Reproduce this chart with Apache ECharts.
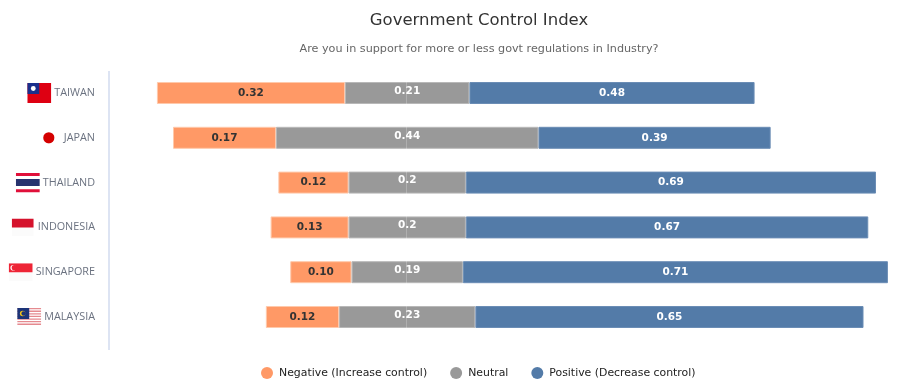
<!DOCTYPE html>
<html>
<head>
	<meta charset="utf-8">
	<title>Government Control Index</title>
	<style>
		html,body{margin:0;padding:0;background:#fff;}
		#chart{width:897px;height:388px;}
	</style>
</head>
<body>
<div id="chart"></div>
<script src="https://cdn.jsdelivr.net/npm/echarts@6/dist/echarts.min.js"></script>
<script>
var countries = ['TAIWAN','JAPAN','THAILAND','INDONESIA','SINGAPORE','MALAYSIA'];
// bar lengths
var negative = [0.316,0.173,0.118,0.131,0.103,0.123];
var neutral = [0.209,0.441,0.197,0.197,0.187,0.229];
var positive = [0.479,0.39,0.689,0.676,0.714,0.652];
// numbers printed on the bars
var negativeText = ['0.32','0.17','0.12','0.13','0.10','0.12'];
var neutralText = ['0.21','0.44','0.2','0.2','0.19','0.23'];
var positiveText = ['0.48','0.39','0.69','0.67','0.71','0.65'];

//neutral block is centred, the rest hangs off it
var centre = 0.501;
var offset = countries.map(function(c,i){
    return +(centre - negative[i] - neutral[i]/2).toFixed(4);
});

function svg(w,h,body){
    return 'data:image/svg+xml;charset=utf-8,' + encodeURIComponent(
        '<svg xmlns="http://www.w3.org/2000/svg" width="'+w+'" height="'+h+'" viewBox="0 0 '+w+' '+h+'">'+body+'</svg>');
}
var malaysiaStripes = '';
for(var s=0;s<7;s++){
    malaysiaStripes += '<rect y="'+(s*2.6)+'" width="24" height="1.3" fill="#e58a8f"/>';
}
var flags = {
    TAIWAN: {w:24,h:20,gap:3,img:svg(24,20,'<rect width="24" height="20" fill="#de0012"/><rect width="12" height="11" fill="#1a2f8c"/><circle cx="6" cy="5.5" r="2.4" fill="#fff"/>')},
    JAPAN: {w:12,h:12,gap:9,img:svg(12,12,'<circle cx="6" cy="6" r="5.6" fill="#d40000"/>')},
    THAILAND: {w:24,h:20,gap:3,img:svg(24,20,'<rect width="24" height="20" fill="#fff"/><rect width="24" height="3.3" fill="#e0103a"/><rect y="16.7" width="24" height="3.3" fill="#e0103a"/><rect y="6.5" width="24" height="7" fill="#27336e"/>')},
    INDONESIA: {w:22,h:18,gap:4,img:svg(22,18,'<rect width="22" height="18" fill="#fbfbfb"/><rect width="22" height="9" fill="#d5122c"/>')},
    SINGAPORE: {w:24,h:18,gap:3,img:svg(24,18,'<rect width="24" height="18" fill="#fbfbfb"/><rect width="24" height="9" fill="#ee2536"/><circle cx="4.5" cy="4.5" r="2.8" fill="#fff"/><circle cx="5.6" cy="4.5" r="2.6" fill="#ee2536"/>')},
    MALAYSIA: {w:24,h:18,gap:3,img:svg(24,18,'<rect width="24" height="18" fill="#fff"/>'+malaysiaStripes+'<rect width="12" height="11" fill="#1c3478"/><circle cx="5.5" cy="5.5" r="2.8" fill="#f5c518"/><circle cx="6.5" cy="5.5" r="2.3" fill="#1c3478"/>')}
};

var richLabels = {
    name: {fontFamily:'"Open Sans"',fontSize:10.8,color:'#6b7280'}
};
countries.forEach(function(c){
    richLabels[c] = {
        width: flags[c].w,
        height: flags[c].h,
        backgroundColor: {image: flags[c].img}
    };
    richLabels['gap'+flags[c].gap] = {width: flags[c].gap};
});

function textOf(list){
    return function(p){ return list[p.dataIndex]; };
}

var myChart = echarts.init(document.getElementById('chart'));
var option = {
    animation: false,
    backgroundColor: '#fff',
    title: {
        text: 'Government Control Index',
        subtext: 'Are you in support for more or less govt regulations in Industry?',
        left: 474,
        top: 7,
        textAlign: 'center',
        itemGap: 15,
        textStyle: {fontFamily:'"DejaVu Sans"',fontSize:16.5,fontWeight:'normal',color:'#333'},
        subtextStyle: {fontFamily:'"DejaVu Sans"',fontSize:11.2,color:'#666'}
    },
    legend: {
        data: ['Negative (Increase control)','Neutral','Positive (Decrease control)'],
        left: 256,
        top: 362,
        icon: 'circle',
        itemWidth: 12,
        itemHeight: 12,
        itemGap: 23,
        itemStyle: {borderWidth:0},
        textStyle: {fontFamily:'"DejaVu Sans"',fontSize:10.9,color:'#222',padding:[0,0,0,1]}
    },
    grid: {left:109,right:7,top:70.6,height:268.8},
    xAxis: {type:'value',min:0,max:1.312,show:false},
    yAxis: {
        type: 'category',
        inverse: true,
        data: countries,
        axisTick: {show:false},
        axisLine: {show:false},
        axisLabel: {
            margin: 14,
            formatter: function(v){
                return '{'+v+'|}{gap'+flags[v].gap+'|}{name|'+v+'}';
            },
            rich: richLabels
        }
    },
    graphic: [{
        type: 'line',
        shape: {x1:109,y1:71,x2:109,y2:350},
        style: {stroke:'#dde4f3',lineWidth:2}
    }],
    series: [
        {
            name: 'offset',
            type: 'bar',
            stack: 'total',
            silent: true,
            barWidth: 22,
            itemStyle: {color:'transparent'},
            data: offset
        },
        {
            name: 'Negative (Increase control)',
            type: 'bar',
            stack: 'total',
            itemStyle: {color:'#ff9966',borderColor:'#ffc9ab',borderWidth:1},
            label: {show:true,position:'inside',formatter:textOf(negativeText),fontFamily:'"DejaVu Sans"',fontSize:10.5,fontWeight:'bold',color:'#333'},
            data: negative
        },
        {
            name: 'Neutral',
            type: 'bar',
            stack: 'total',
            itemStyle: {color:'#999999',borderColor:'#b8b8b8',borderWidth:1},
            label: {show:true,position:'inside',offset:[0,-2],formatter:textOf(neutralText),fontFamily:'"DejaVu Sans"',fontSize:10.5,fontWeight:'bold',color:'#fff'},
            markLine: {
                silent: true,
                symbol: 'none',
                label: {show:false},
                lineStyle: {color:'rgba(255,255,255,0.22)',type:'solid',width:1},
                data: [{xAxis:centre}]
            },
            data: neutral
        },
        {
            name: 'Positive (Decrease control)',
            type: 'bar',
            stack: 'total',
            itemStyle: {color:'#537ba8',borderColor:'#6b8db5',borderWidth:1},
            label: {show:true,position:'inside',formatter:textOf(positiveText),fontFamily:'"DejaVu Sans"',fontSize:10.5,fontWeight:'bold',color:'#fff'},
            data: positive
        }
    ]
};
myChart.setOption(option);
</script>
</body>
</html>
